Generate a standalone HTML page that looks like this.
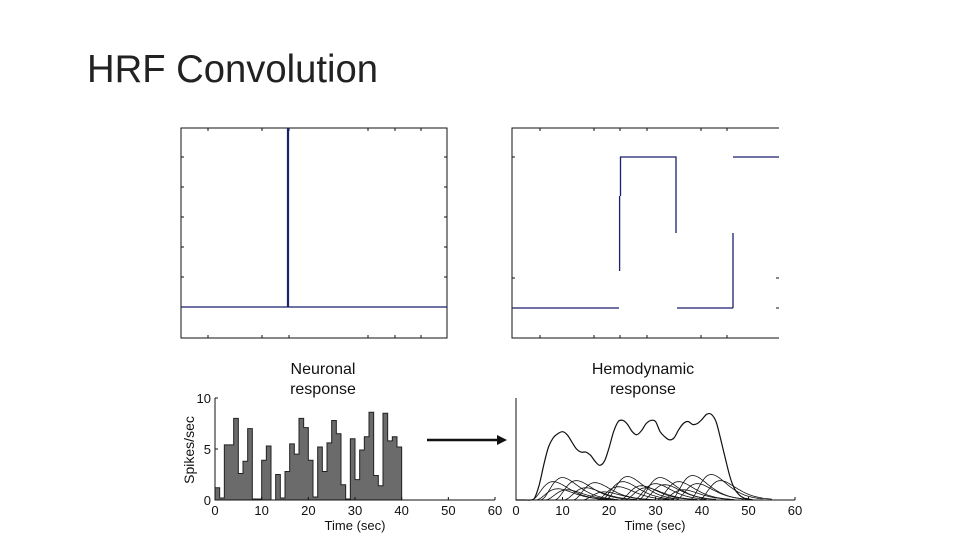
<!DOCTYPE html>
<html><head><meta charset="utf-8"><style>
body{margin:0;background:#fff;width:960px;height:540px;overflow:hidden}
svg{display:block;font-family:"Liberation Sans",Arial,sans-serif}
</style></head><body>
<svg id="s" width="960" height="540" viewBox="0 0 960 540">
<text x="87" y="82" font-size="39" fill="#222" textLength="291" lengthAdjust="spacingAndGlyphs">HRF Convolution</text>

<g stroke="#111" fill="none">
<rect x="181" y="128" width="266" height="210" stroke-width="1"/>
</g>
<g id="tl"></g>
<line x1="181" y1="307" x2="447" y2="307" stroke="#1c1f6e" stroke-width="1.2"/>
<line x1="288" y1="128" x2="288" y2="307" stroke="#1c1f6e" stroke-width="2.2"/>

<g stroke="#111" fill="none">
<polyline points="779,128 512,128 512,338 779,338" stroke-width="1"/>
</g>
<g id="tr"></g>
<g stroke="#1c1f6e" stroke-width="1.3" fill="none">
<line x1="513" y1="308" x2="619" y2="308"/>
<line x1="619.6" y1="196" x2="619.6" y2="271"/>
<polyline points="620.5,196 620.5,157 676,157 676,233"/>
<line x1="677" y1="308" x2="733" y2="308"/>
<line x1="733" y1="308" x2="733" y2="233"/>
<line x1="733" y1="157" x2="779" y2="157"/>
</g>

<text x="323" y="374" font-size="16" text-anchor="middle" fill="#111">Neuronal</text>
<text x="323" y="394" font-size="16" text-anchor="middle" fill="#111">response</text>
<text x="643" y="374" font-size="16" text-anchor="middle" fill="#111">Hemodynamic</text>
<text x="643" y="394" font-size="16" text-anchor="middle" fill="#111">response</text>
<text transform="translate(194,450) rotate(-90)" font-size="14" text-anchor="middle" fill="#111">Spikes/sec</text>
<text x="355" y="530" font-size="13" text-anchor="middle" fill="#111">Time (sec)</text>
<text x="655" y="530" font-size="13" text-anchor="middle" fill="#111">Time (sec)</text>
<g>
<line x1="427" y1="440" x2="500" y2="440" stroke="#111" stroke-width="2.5"/>
<polygon points="507,440 497,435 497,445" fill="#111"/>
</g>
<g id="left"></g>
<g id="right"></g>
</svg>
<script>
const spikeRates=[1.2,0.2,5.4,5.4,8,2.6,3.8,7,0.1,0.1,3.9,5.3,0,2.5,0.2,2.8,5.5,4.5,8,7.1,3.9,0.3,5.2,2.8,5.6,7.8,6.5,1.5,0.1,6.0,2.0,4.9,6.2,8.6,2.4,1.4,8.5,5.8,6.2,5.2];
const xTicks=[0,10,20,30,40,50,60];
const yTicks=[0,5,10];
const bold=[0,0,0,0,0.2,1.5,3.5,5.2,6.1,6.5,6.7,6.4,5.7,5.0,4.7,4.7,4.4,3.8,3.4,3.8,5.1,6.7,7.7,7.8,7.4,6.7,6.4,6.8,7.5,7.8,7.7,6.7,6.2,5.9,6.1,6.9,7.5,7.7,7.4,7.5,7.9,8.4,8.4,7.7,6.0,4.1,2.3,1.1,0.5,0.2,0.1,0];
const hrfPeaks=[8,9,10,11,13,15,17,19,22,23,24,27,28,30,31,32,35,36,38,39,42,44];
const hrfAmps=[1.8,1.1,2.2,1.0,1.9,1.2,1.7,0.8,1.3,1.8,2.3,1.4,1.2,1.6,2.2,1.5,1.8,1.0,2.4,1.6,2.5,1.9];
const NS="http://www.w3.org/2000/svg";
function mk(p,t,a){const e=document.createElementNS(NS,t);for(const k in a)e.setAttribute(k,a[k]);p.appendChild(e);return e;}
const L=document.getElementById('left'),R=document.getElementById('right');
const xl=v=>215+v*(280/60), yl=v=>500-v*10.2;
const xr=v=>516+v*(279/60), yr=v=>500-v*10.2;
let d='M'+xl(0)+','+yl(0);
spikeRates.forEach((v,i)=>{d+=' L'+xl(i)+','+yl(v)+' L'+xl(i+1)+','+yl(v);});
d+=' L'+xl(spikeRates.length)+','+yl(0)+' Z';
const bars=mk(L,'path',{d:d,fill:'#6b6b6b',stroke:'#222','stroke-width':1});


const ax=mk(L,'path',{d:`M${xl(0)},${yl(10)} L${xl(0)},${yl(0)} L${xl(60)},${yl(0)}`,fill:'none',stroke:'#111','stroke-width':1});


xTicks.forEach(t=>{
 mk(L,'line',{x1:xl(t),y1:500,x2:xl(t),y2:497,stroke:'#111'});
 const tx=mk(L,'text',{x:xl(t),y:515,'font-size':13,'text-anchor':'middle',fill:'#111'});tx.textContent=t;
 
 
 mk(R,'line',{x1:xr(t),y1:500,x2:xr(t),y2:497,stroke:'#111'});
 const t2=mk(R,'text',{x:xr(t),y:515,'font-size':13,'text-anchor':'middle',fill:'#111'});t2.textContent=t;
 
 
});
yTicks.forEach(t=>{
 mk(L,'line',{x1:215,y1:yl(t),x2:218,y2:yl(t),stroke:'#111'});
 const tx=mk(L,'text',{x:211,y:yl(t)+5,'font-size':13,'text-anchor':'end',fill:'#111'});tx.textContent=t;
 
 
});
const ax2=mk(R,'path',{d:`M${xr(0)},398 L${xr(0)},500 L${xr(60)},500`,fill:'none',stroke:'#111','stroke-width':1});


hrfPeaks.forEach((p,i)=>{
 let s='';
 for(let k=0;k<=16;k+=0.25){const t=p-5+k;const u=k/5;const v=hrfAmps[i]*Math.pow(u,3)*Math.exp(3*(1-u));s+=(s?' L':'M')+xr(t).toFixed(1)+','+yr(v).toFixed(1);}
 const c=mk(R,'path',{d:s,fill:'none',stroke:'#111','stroke-width':0.8});
 
 
});
// smooth bold line (Catmull-Rom)
const P=bold.map((v,i)=>[xr(i),yr(v)]);
let bd='M'+P[0][0].toFixed(1)+','+P[0][1].toFixed(1);
for(let i=0;i<P.length-1;i++){
 const p0=P[Math.max(0,i-1)],p1=P[i],p2=P[i+1],p3=P[Math.min(P.length-1,i+2)];
 const c1=[p1[0]+(p2[0]-p0[0])/6,p1[1]+(p2[1]-p0[1])/6],c2=[p2[0]-(p3[0]-p1[0])/6,p2[1]-(p3[1]-p1[1])/6];
 bd+=` C${c1[0].toFixed(1)},${c1[1].toFixed(1)} ${c2[0].toFixed(1)},${c2[1].toFixed(1)} ${p2[0].toFixed(1)},${p2[1].toFixed(1)}`;
}
const bl=mk(R,'path',{d:bd,fill:'none',stroke:'#111','stroke-width':1.2,'stroke-linejoin':'round'});


const TL=document.getElementById('tl'),TR=document.getElementById('tr');
[208,262,289,368,395,421].forEach(x=>{mk(TL,'line',{x1:x,y1:128,x2:x,y2:131,stroke:'#111'});mk(TL,'line',{x1:x,y1:338,x2:x,y2:335,stroke:'#111'});});
[157,187,217,247,277,307].forEach(y=>{mk(TL,'line',{x1:181,y1:y,x2:184,y2:y,stroke:'#111'});mk(TL,'line',{x1:447,y1:y,x2:444,y2:y,stroke:'#111'});});
[540,594,620,647,701,727].forEach(x=>{mk(TR,'line',{x1:x,y1:128,x2:x,y2:131,stroke:'#111'});mk(TR,'line',{x1:x,y1:338,x2:x,y2:335,stroke:'#111'});});
[157,278,308].forEach(y=>{mk(TR,'line',{x1:512,y1:y,x2:515,y2:y,stroke:'#111'});mk(TR,'line',{x1:779,y1:y,x2:776,y2:y,stroke:'#111'});});
</script>
</body></html>
